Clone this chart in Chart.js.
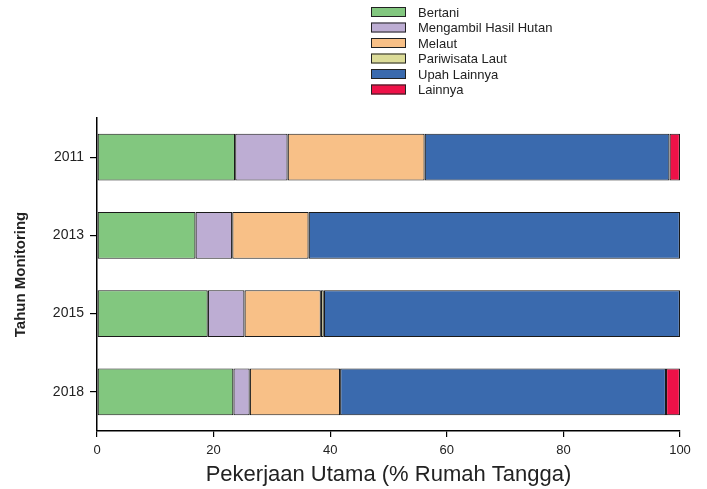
<!DOCTYPE html>
<html>
<head>
<meta charset="utf-8">
<script src="https://cdn.jsdelivr.net/npm/chart.js@4/dist/chart.umd.min.js"></script>
<style>
  html, body { margin: 0; padding: 0; background: #fff; }
  #wrap { width: 707px; height: 489px; }
</style>
</head>
<body>
<div id="wrap"><canvas id="chart" width="707" height="489"></canvas></div>
<script>
// Data kategori dan nilai tiap seri (% rumah tangga)
const years = ['2011', '2013', '2015', '2018'];
const seriesNames = ['Bertani', 'Mengambil Hasil Hutan', 'Melaut', 'Pariwisata Laut', 'Upah Lainnya', 'Lainnya'];
const bertani = [23.7, 16.9, 19.0, 23.4];
const hasilHutan = [9.0, 6.3, 6.3, 2.8];
const melaut = [23.5, 13.1, 13.1, 15.5];
const pariwisata = [0, 0, 0.5, 0];
const upahLainnya = [42.0, 63.7, 61.1, 55.9];
const lainnya = [1.8, 0, 0, 2.4];
const xTicks = [0, 20, 40, 60, 80, 100];

const colors = ['#82c77f', '#bdadd3', '#f8c087', '#dcdc98', '#3a6aae', '#ee1148'];
const values = [bertani, hasilHutan, melaut, pariwisata, upahLainnya, lainnya];

// Legenda digambar manual (kolom vertikal di atas)
const legendPlugin = {
    id: 'columnLegend',
    afterDraw(chart) {
        const ctx = chart.ctx;
        ctx.save();
        ctx.font = '13px "Liberation Sans", Arial, sans-serif';
        ctx.textBaseline = 'middle';
        chart.data.datasets.forEach((ds, i) => {
            const y = 12 + i * 15.5;
            ctx.fillStyle = ds.backgroundColor;
            ctx.fillRect(371, y - 5, 35, 10);
            ctx.strokeStyle = '#222';
            ctx.lineWidth = 1;
            ctx.strokeRect(371.5, y - 4.5, 34, 9);
            ctx.fillStyle = '#222';
            ctx.fillText(ds.label, 418, y + 1);
        });
        ctx.restore();
    }
};

new Chart(document.getElementById('chart'), {
    type: 'bar',
    data: {
        labels: years,
        datasets: seriesNames.map((name, i) => ({
            label: name,
            data: values[i],
            backgroundColor: colors[i],
            borderColor: '#1a1a1a',
            borderWidth: 1.2,
            borderSkipped: false,
            barPercentage: 0.6,
            categoryPercentage: 1.0
        }))
    },
    options: {
        indexAxis: 'y',
        responsive: false,
        animation: false,
        layout: { padding: { top: 118, right: 27, left: 0, bottom: 0 } },
        plugins: {
            legend: { display: false },
            tooltip: { enabled: false }
        },
        scales: {
            x: {
                stacked: true,
                min: 0,
                max: 100,
                afterBuildTicks: axis => { axis.ticks = xTicks.map(v => ({ value: v })); },
                afterFit: axis => { axis.height = 58; },
                grid: { drawOnChartArea: false, drawTicks: true, tickLength: 6, color: '#000', lineWidth: 1.2 },
                border: { display: true, color: '#000', width: 1.5 },
                ticks: { color: '#222', font: { size: 13, family: '"Liberation Sans", Arial, sans-serif' }, padding: 6, maxRotation: 0 },
                title: {
                    display: true,
                    text: 'Pekerjaan Utama (% Rumah Tangga)',
                    color: '#222',
                    font: { size: 22, family: '"Liberation Sans", Arial, sans-serif' },
                    padding: { top: 0, bottom: 1 }
                }
            },
            y: {
                stacked: true,
                afterFit: axis => { axis.width = 97; },
                grid: { offset: false, drawOnChartArea: false, drawTicks: true, tickLength: 7, color: '#000', lineWidth: 1.2 },
                border: { display: true, color: '#000', width: 1.5 },
                ticks: { color: '#222', font: { size: 14, family: '"Liberation Sans", Arial, sans-serif' }, padding: 6 },
                title: {
                    display: true,
                    text: 'Tahun Monitoring',
                    color: '#222',
                    font: { size: 15, weight: 'bold', family: '"Liberation Sans Narrow", "Arial Narrow", "Liberation Sans", sans-serif' },
                    padding: { top: 12, bottom: 8 }
                }
            }
        }
    },
    plugins: [legendPlugin]
});
</script>
</body>
</html>
